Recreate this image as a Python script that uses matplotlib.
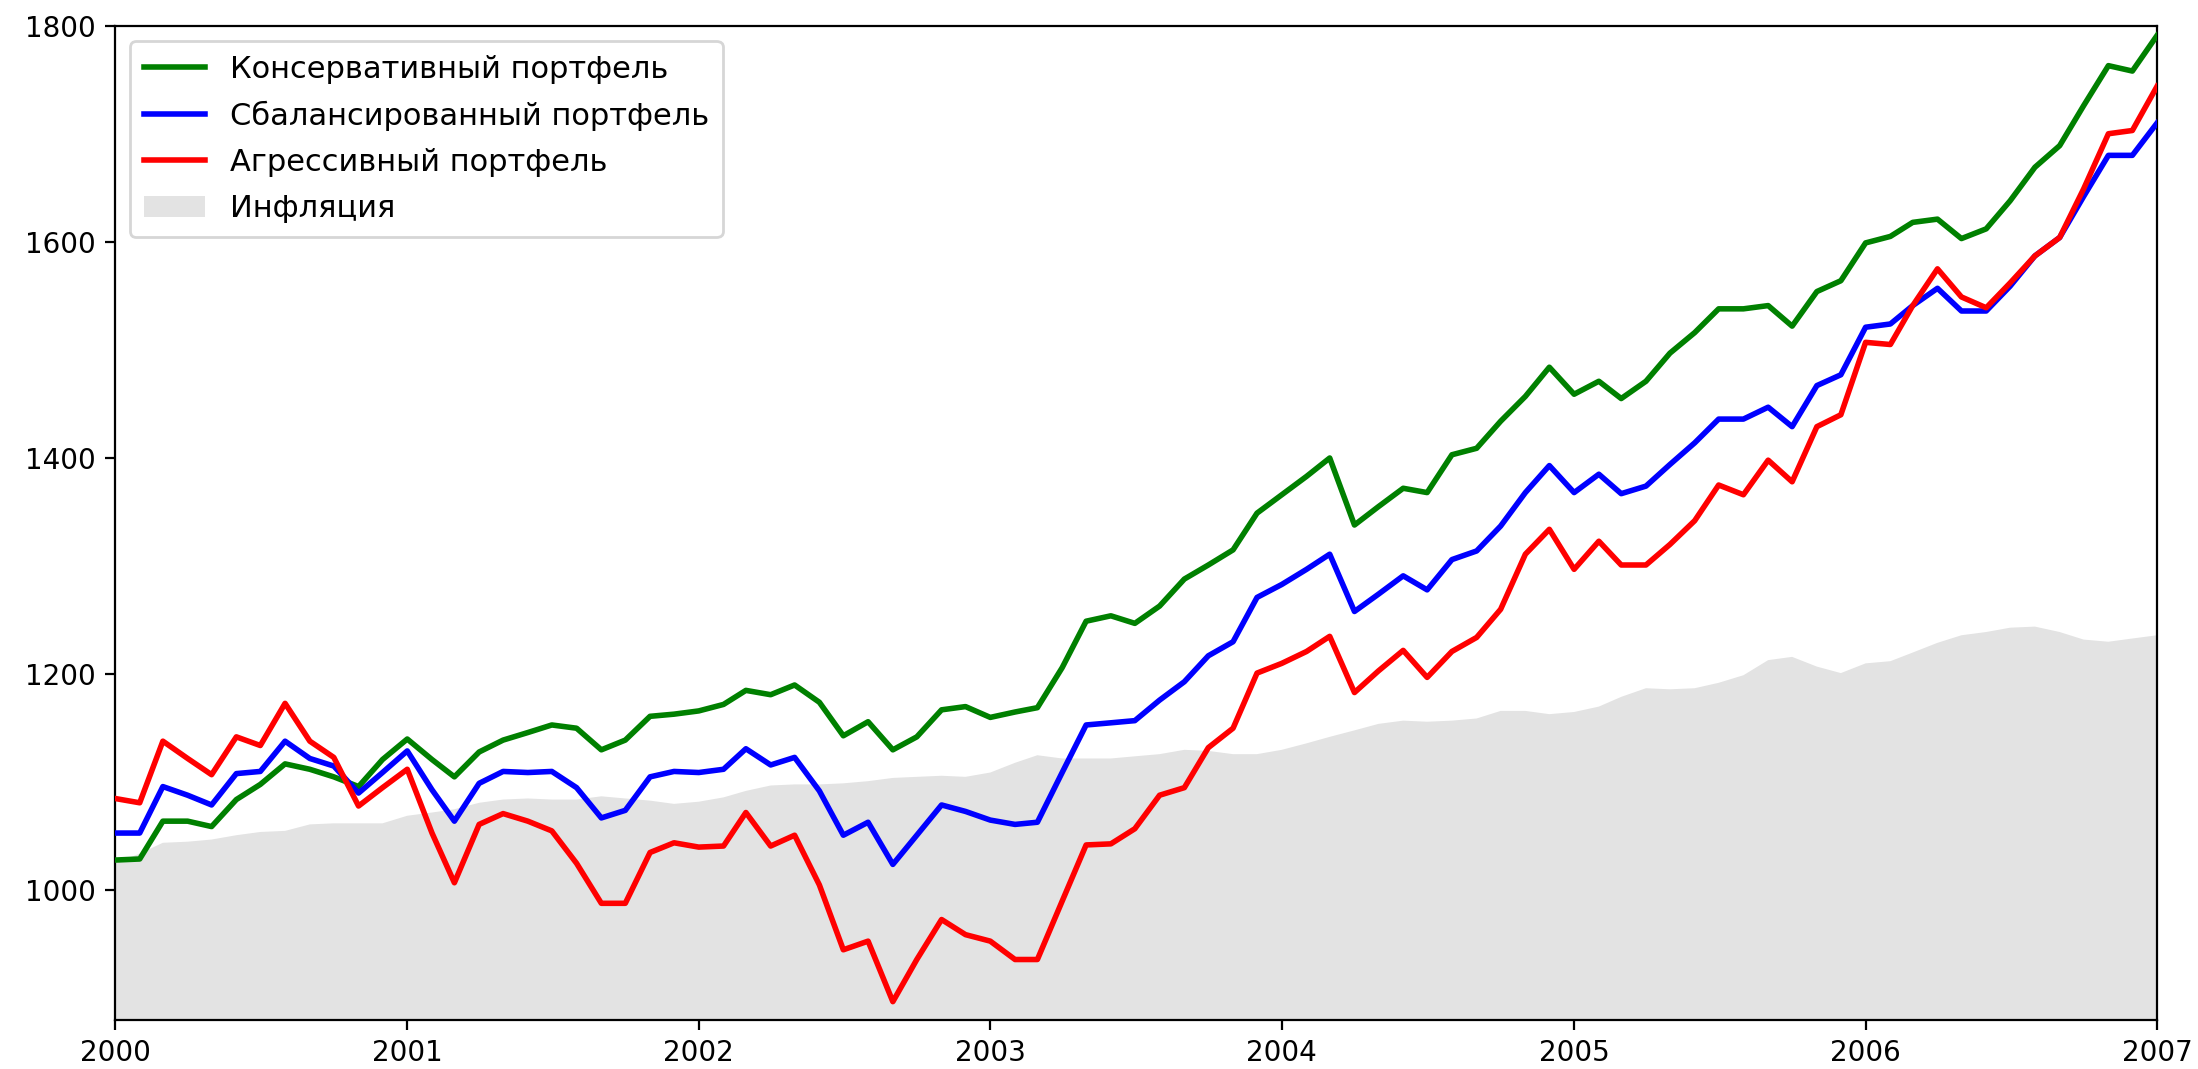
import matplotlib
matplotlib.use("Agg")
import matplotlib.pyplot as plt
import matplotlib.dates as mdates
from matplotlib.patches import Patch
import pandas as pd

dates = pd.date_range("2000-01-01", "2007-01-01", freq="MS")

conservative = [1028, 1029, 1064, 1064, 1059, 1084, 1098, 1117, 1112, 1105, 1096, 1121,
                1140, 1121, 1105, 1128, 1139, 1146, 1153, 1150, 1130, 1139, 1161, 1163,
                1166, 1172, 1185, 1181, 1190, 1174, 1143, 1156, 1130, 1142, 1167, 1170,
                1160, 1165, 1169, 1206, 1249, 1254, 1247, 1263, 1288, 1301, 1315, 1349,
                1366, 1383, 1400, 1338, 1355, 1372, 1368, 1403, 1409, 1434, 1457, 1484,
                1459, 1471, 1455, 1471, 1497, 1516, 1538, 1538, 1541, 1522, 1554, 1564,
                1599, 1605, 1618, 1621, 1603, 1612, 1638, 1669, 1689, 1726, 1763, 1758,
                1791]

balanced = [1053, 1053, 1096, 1088, 1079, 1108, 1110, 1138, 1122, 1115, 1090, 1109,
            1129, 1093, 1064, 1099, 1110, 1109, 1110, 1095, 1067, 1074, 1105, 1110,
            1109, 1112, 1131, 1116, 1123, 1092, 1051, 1063, 1024, 1051, 1079, 1073,
            1065, 1061, 1063, 1109, 1153, 1155, 1157, 1176, 1193, 1217, 1230, 1271,
            1283, 1297, 1311, 1258, 1274, 1291, 1278, 1306, 1314, 1337, 1368, 1393,
            1368, 1385, 1367, 1374, 1394, 1414, 1436, 1436, 1447, 1429, 1467, 1477,
            1521, 1524, 1541, 1557, 1536, 1536, 1559, 1587, 1604, 1642, 1680, 1680,
            1710]

aggressive = [1085, 1081, 1138, 1122, 1107, 1142, 1134, 1173, 1138, 1123, 1078, 1095,
              1112, 1053, 1007, 1061, 1071, 1064, 1055, 1025, 988, 988, 1035, 1044,
              1040, 1041, 1072, 1041, 1051, 1005, 945, 953, 897, 936, 973, 959,
              953, 936, 936, 990, 1042, 1043, 1057, 1088, 1095, 1132, 1150, 1201,
              1210, 1221, 1235, 1183, 1203, 1222, 1197, 1221, 1234, 1260, 1311, 1334,
              1297, 1323, 1301, 1301, 1320, 1342, 1375, 1366, 1398, 1378, 1429, 1440,
              1507, 1505, 1541, 1575, 1549, 1539, 1562, 1587, 1604, 1649, 1700, 1703,
              1744]

inflation = [1025, 1034, 1044, 1045, 1047, 1051, 1054, 1055, 1061, 1062, 1062, 1062,
             1069, 1072, 1075, 1081, 1084, 1085, 1084, 1084, 1087, 1085, 1083, 1080,
             1082, 1086, 1092, 1097, 1098, 1098, 1099, 1101, 1104, 1105, 1106, 1105,
             1109, 1118, 1125, 1122, 1122, 1122, 1124, 1126, 1130, 1129, 1126, 1126,
             1130, 1136, 1142, 1148, 1154, 1157, 1156, 1157, 1159, 1166, 1166, 1163,
             1165, 1170, 1179, 1187, 1186, 1187, 1192, 1199, 1213, 1216, 1207, 1201,
             1210, 1212, 1220, 1229, 1236, 1239, 1243, 1244, 1239, 1232, 1230, 1233,
             1236]

labels = ["Консервативный портфель", "Сбалансированный портфель",
          "Агрессивный портфель", "Инфляция"]
yticks = [1000, 1200, 1400, 1600, 1800]

plt.rcParams['font.family'] = ['DejaVu Sans']
fig = plt.figure(figsize=(10.99, 5.345), dpi=200)
ax = fig.add_axes([0.0523, 0.0458, 0.9291, 0.9302])

ax.fill_between(dates, 0, inflation, color='#e3e3e3', linewidth=0, zorder=1)
ax.plot(dates, conservative, color='green', lw=2, zorder=3)
ax.plot(dates, balanced, color='blue', lw=2, zorder=3)
ax.plot(dates, aggressive, color='red', lw=2, zorder=3)

ax.set_xlim(dates[0], dates[-1])
ax.set_ylim(880, 1800)
ax.set_yticks(yticks)
ax.xaxis.set_major_locator(mdates.YearLocator())
ax.xaxis.set_major_formatter(mdates.DateFormatter('%Y'))
ax.tick_params(labelsize=10)

handles = [plt.Line2D([], [], color='green', lw=2),
           plt.Line2D([], [], color='blue', lw=2),
           plt.Line2D([], [], color='red', lw=2),
           Patch(facecolor='#e3e3e3', edgecolor='none')]
ax.legend(handles, labels, loc='upper left', fontsize=11, labelspacing=0.56,
          borderpad=0.45)

fig.savefig("out.png", dpi=200)
